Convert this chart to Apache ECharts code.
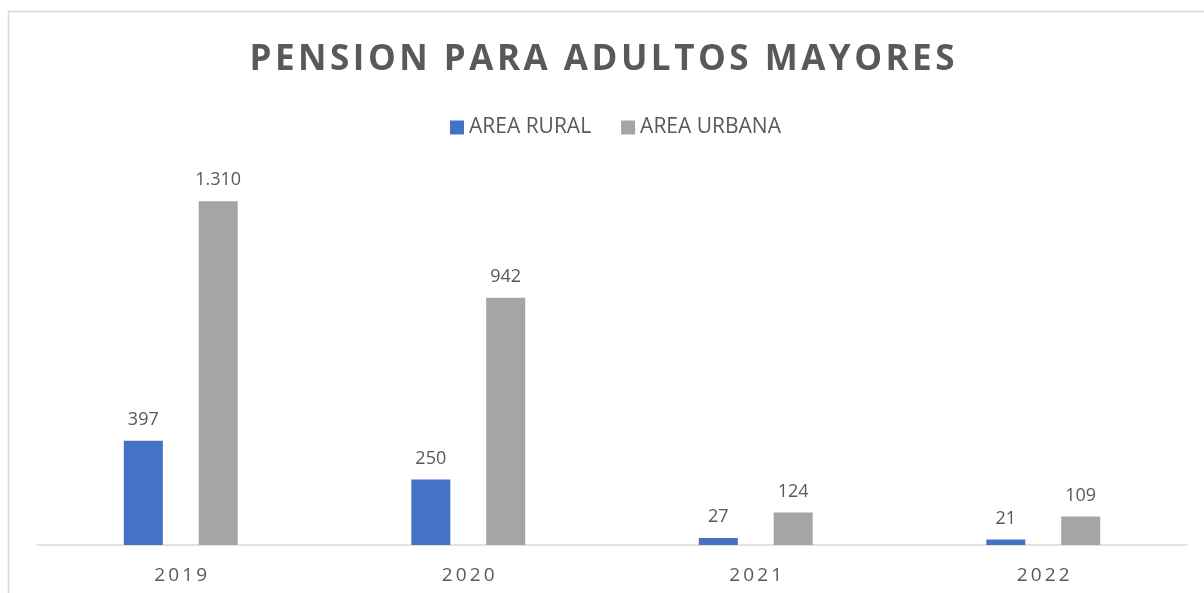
<!DOCTYPE html>
<html>
<head>
<meta charset="utf-8">
<script src="https://cdn.jsdelivr.net/npm/echarts@6/dist/echarts.min.js"></script>
<style>
  html, body { margin: 0; padding: 0; background: #fff; }
  #chart { width: 1204px; height: 593px; }
</style>
</head>
<body>
<div id="chart"></div>
<script>
var years = ['2019', '2020', '2021', '2022'];
var rural = [397, 250, 27, 21];
var urbana = [1310, 942, 124, 109];

// miles con punto, como en el original
function fmt(v) {
  return String(v).replace(/\B(?=(\d{3})+(?!\d))/g, '.');
}

// espaciado entre letras (echarts no tiene letterSpacing)
function spaced(s, sp) {
  return s.split('').join(sp);
}

var chart = echarts.init(document.getElementById('chart'));

var option = {
  backgroundColor: '#ffffff',
  color: ['#4472C4', '#A5A5A5'],
  animation: false,
  title: {
    text: spaced('PENSION PARA ADULTOS MAYORES', '\u200A'),
    left: 'center',
    top: 38,
    textStyle: {
      fontFamily: 'Open Sans',
      fontSize: 35,
      fontWeight: 'bold',
      color: '#595959'
    }
  },
  legend: {
    top: 112,
    left: 445,
    itemWidth: 14,
    itemHeight: 14,
    itemGap: 30,
    icon: 'rect',
    textStyle: {
      fontFamily: 'Open Sans',
      fontSize: 21,
      color: '#595959'
    },
    data: ['AREA RURAL', 'AREA URBANA']
  },
  grid: {
    left: 37,
    right: 17,
    top: 177.5,
    bottom: 48
  },
  xAxis: {
    type: 'category',
    data: years,
    axisLine: { lineStyle: { color: '#D9D9D9', width: 1.5 } },
    axisTick: { show: false },
    axisLabel: {
      margin: 21,
      fontFamily: 'Open Sans',
      fontSize: 19,
      color: '#595959',
      formatter: function (v) { return spaced(v, '\u2009'); }
    }
  },
  yAxis: {
    type: 'value',
    min: 0,
    max: 1400,
    show: false,
    splitLine: { show: false }
  },
  series: [
    {
      name: 'AREA RURAL',
      type: 'bar',
      data: rural,
      barWidth: 39,
      barGap: '92%',
      label: {
        show: true,
        position: 'top',
        distance: 12,
        fontFamily: 'Open Sans',
        fontSize: 18,
        color: '#595959',
        formatter: function (p) { return fmt(p.value); }
      }
    },
    {
      name: 'AREA URBANA',
      type: 'bar',
      data: urbana,
      barWidth: 39,
      barGap: '92%',
      label: {
        show: true,
        position: 'top',
        distance: 12,
        fontFamily: 'Open Sans',
        fontSize: 18,
        color: '#595959',
        formatter: function (p) { return fmt(p.value); }
      }
    }
  ],
  graphic: [
    { type: 'line', shape: { x1: 8.5, y1: 11, x2: 8.5, y2: 593 }, style: { stroke: '#D9D9D9', lineWidth: 1.5 } },
    { type: 'line', shape: { x1: 8, y1: 11.5, x2: 1204, y2: 11.5 }, style: { stroke: '#D9D9D9', lineWidth: 1.5 } }
  ]
};

chart.setOption(option);
</script>
</body>
</html>
